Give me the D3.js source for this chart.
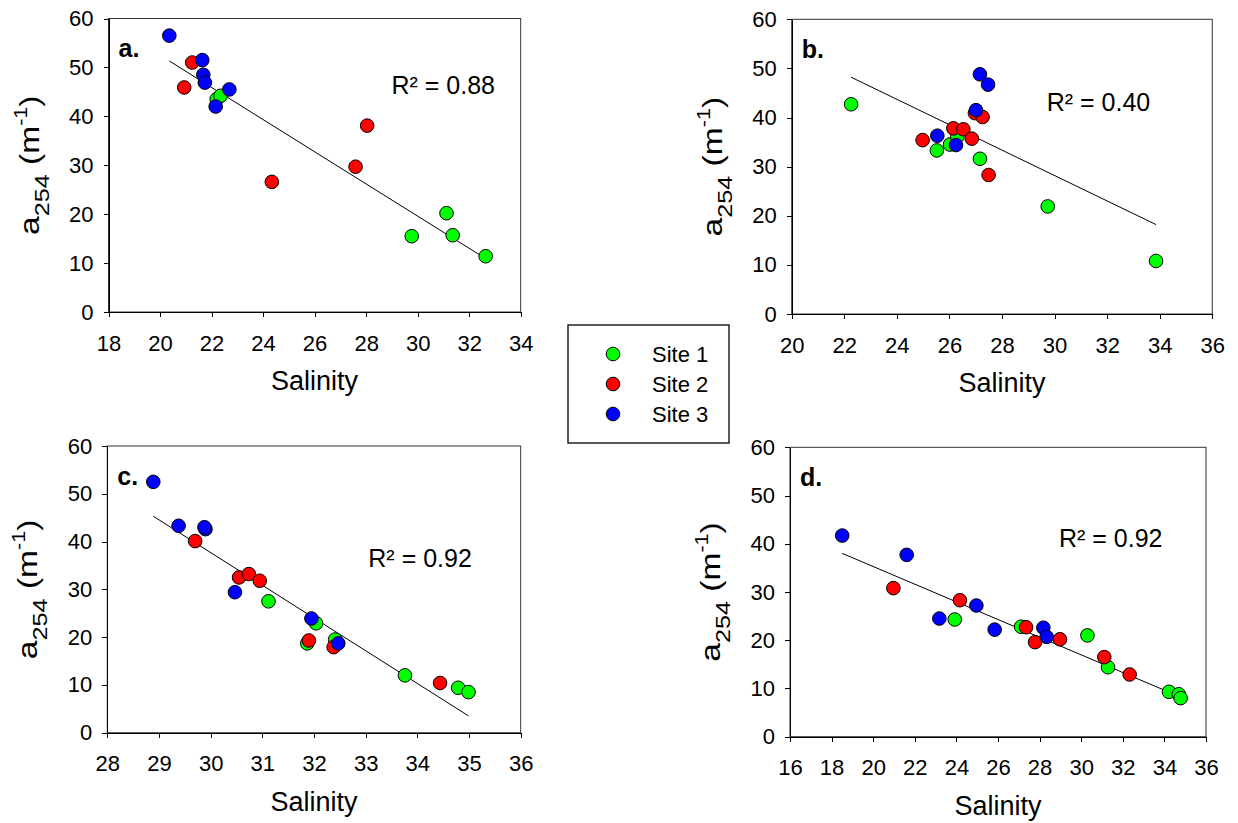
<!DOCTYPE html>
<html>
<head>
<meta charset="utf-8">
<script src="https://cdn.jsdelivr.net/npm/d3@7"></script>
<style>
  body { margin: 0; background: white; }
  svg { font-family: "Liberation Sans", Arial, sans-serif; }
  .axis path, .axis line { stroke: black; shape-rendering: crispEdges; }
  .axis text { font-size: 22px; fill: black; }
</style>
</head>
<body>
<svg id="chart" width="1238" height="823"></svg>
<script>
// ---- data (salinity, a254) ----
var sites = ["Site 1", "Site 2", "Site 3"];

var aSite1 = [[22.2, 43.5], [22.35, 44.2], [29.77, 15.5], [31.12, 20.2], [31.36, 15.7], [32.64, 11.4]];
var aSite2 = [[21.25, 51.0], [20.94, 45.9], [28.04, 38.1], [27.59, 29.7], [24.34, 26.6]];
var aSite3 = [[20.36, 56.5], [21.64, 51.5], [21.68, 48.5], [21.74, 46.9], [22.69, 45.5], [22.16, 42.0]];

var bSite1 = [[22.26, 42.7], [25.52, 33.3], [26.02, 34.5], [26.30, 36.1], [27.16, 31.6], [29.74, 21.9], [33.86, 10.8]];
var bSite2 = [[24.98, 35.4], [26.15, 37.8], [26.53, 37.6], [26.85, 35.7], [26.97, 40.9], [27.26, 40.1], [27.49, 28.3]];
var bSite3 = [[25.54, 36.3], [26.25, 34.4], [27.01, 41.5], [27.16, 48.8], [27.47, 46.7]];

var cSite1 = [[31.12, 27.5], [32.04, 22.9], [31.87, 18.7], [32.41, 19.5], [33.76, 12.0], [34.79, 9.4], [34.99, 8.5]];
var cSite2 = [[29.70, 40.1], [30.55, 32.5], [30.74, 33.2], [30.95, 31.8], [31.90, 19.3], [32.38, 17.9], [34.44, 10.4]];
var cSite3 = [[28.89, 52.5], [29.38, 43.3], [29.90, 42.6], [29.88, 43.0], [30.47, 29.4], [31.95, 23.9], [32.47, 18.7]];

var dSite1 = [[23.92, 24.3], [27.11, 22.8], [30.30, 21.0], [31.29, 14.4], [34.22, 9.3], [34.69, 8.8], [34.78, 8.0]];
var dSite2 = [[20.97, 30.8], [24.17, 28.3], [27.35, 22.7], [27.78, 19.6], [28.98, 20.2], [31.11, 16.5], [32.33, 12.9]];
var dSite3 = [[18.51, 41.7], [21.61, 37.7], [23.18, 24.5], [24.96, 27.2], [25.84, 22.2], [28.18, 22.6], [28.34, 20.7]];

// linear fits as drawn (slope, intercept) and R² labels
var fitSlope = [-3.29, -2.587, -6.85, -1.831];
var fitIntercept = [118.3, 105.8, 243.2, 71.9];
var r2Labels = ["R² = 0.88", "R² = 0.40", "R² = 0.92", "R² = 0.92"];
var panelLetters = ["a.", "b.", "c.", "d."];

var xDomains = [[18, 34], [20, 36], [28, 36], [16, 36]];
var xTicks = [d3.range(18, 35, 2), d3.range(20, 37, 2), d3.range(28, 37, 1), d3.range(16, 37, 2)];
var yTicks = d3.range(0, 61, 10);

var colors = ["#00ff00", "#ff0000", "#0000ff"];

// panel placement in pixels
var layout = [
  {left: 108.5, top: 18.5, right: 520.7, bottom: 312,   r2x: 283, r2y: 75.5},
  {left: 791.7, top: 19.3, right: 1212.3, bottom: 314,  r2x: 255, r2y: 91.4},
  {left: 107.3, top: 446,  right: 520.7, bottom: 732.7, r2x: 261, r2y: 121},
  {left: 790,   top: 447.3, right: 1206, bottom: 736.7, r2x: 269, r2y: 100}
];

var panelData = [
  [aSite1, aSite2, aSite3],
  [bSite1, bSite2, bSite3],
  [cSite1, cSite2, cSite3],
  [dSite1, dSite2, dSite3]
];

var svg = d3.select("#chart");

layout.forEach(function (p, i) {
  var w = p.right - p.left,
      h = p.bottom - p.top;
  var g = svg.append("g").attr("transform", "translate(" + p.left + "," + p.top + ")");

  var x = d3.scaleLinear().domain(xDomains[i]).range([0, w]);
  var y = d3.scaleLinear().domain([0, 60]).range([h, 0]);

  // frame (top / right)
  g.append("rect")
    .attr("width", w)
    .attr("height", h)
    .attr("fill", "none")
    .attr("stroke", "#333")
    .attr("stroke-width", 1);

  g.append("g")
    .attr("class", "axis")
    .attr("transform", "translate(0," + h + ")")
    .call(d3.axisBottom(x).tickValues(xTicks[i]).tickSize(5).tickSizeOuter(0).tickPadding(18).tickFormat(d3.format("d")));

  g.append("g")
    .attr("class", "axis")
    .call(d3.axisLeft(y).tickValues(yTicks).tickSize(5).tickSizeOuter(0).tickPadding(10));

  g.selectAll(".axis .domain").attr("stroke-width", 1);

  // regression line over the data range
  var allPts = d3.merge(panelData[i]);
  var xr = d3.extent(allPts, function (d) { return d[0]; });
  g.append("line")
    .attr("x1", x(xr[0]))
    .attr("y1", y(fitSlope[i] * xr[0] + fitIntercept[i]))
    .attr("x2", x(xr[1]))
    .attr("y2", y(fitSlope[i] * xr[1] + fitIntercept[i]))
    .attr("stroke", "black")
    .attr("stroke-width", 1);

  // points
  panelData[i].forEach(function (pts, s) {
    g.selectAll(".s" + s)
      .data(pts)
      .enter()
      .append("circle")
      .attr("cx", function (d) { return x(d[0]); })
      .attr("cy", function (d) { return y(d[1]); })
      .attr("r", 6.8)
      .attr("fill", colors[s])
      .attr("stroke", "black")
      .attr("stroke-width", 1);
  });

  // panel letter
  g.append("text")
    .attr("x", 10)
    .attr("y", 38.5)
    .attr("font-size", 25)
    .attr("font-weight", "bold")
    .text(panelLetters[i]);

  // R² label
  g.append("text")
    .attr("x", p.r2x)
    .attr("y", p.r2y)
    .attr("font-size", 25)
    .text(r2Labels[i]);

  // x title
  g.append("text")
    .attr("x", w / 2)
    .attr("y", h + 78)
    .attr("text-anchor", "middle")
    .attr("font-size", 27)
    .text("Salinity");

  // y title  a254 (m-1)
  var yt = g.append("text")
    .attr("text-anchor", "middle")
    .attr("font-size", 28)
    .attr("transform", "translate(-70," + (h / 2) + ") rotate(-90) scale(1.2,1)");
  yt.append("tspan").text("a");
  yt.append("tspan").attr("font-size", 21).attr("dy", 10).text("254");
  yt.append("tspan").attr("dy", -10).text(" (m");
  yt.append("tspan").attr("font-size", 18).attr("dy", -12).text("-1");
  yt.append("tspan").attr("dy", 12).text(")");
});

// legend
var legend = svg.append("g").attr("transform", "translate(568,325)");
legend.append("rect")
  .attr("width", 161)
  .attr("height", 118)
  .attr("fill", "white")
  .attr("stroke", "black")
  .attr("stroke-width", 1.3);

var legendItem = legend.selectAll(".legend")
  .data(sites)
  .enter()
  .append("g")
  .attr("transform", function (d, i) { return "translate(0," + (29 + i * 30) + ")"; });

legendItem.append("circle")
  .attr("cx", 45)
  .attr("r", 6.8)
  .attr("fill", function (d, i) { return colors[i]; })
  .attr("stroke", "black")
  .attr("stroke-width", 1);

legendItem.append("text")
  .attr("x", 84)
  .attr("y", 8)
  .attr("font-size", 22)
  .text(function (d) { return d; });
</script>
</body>
</html>
